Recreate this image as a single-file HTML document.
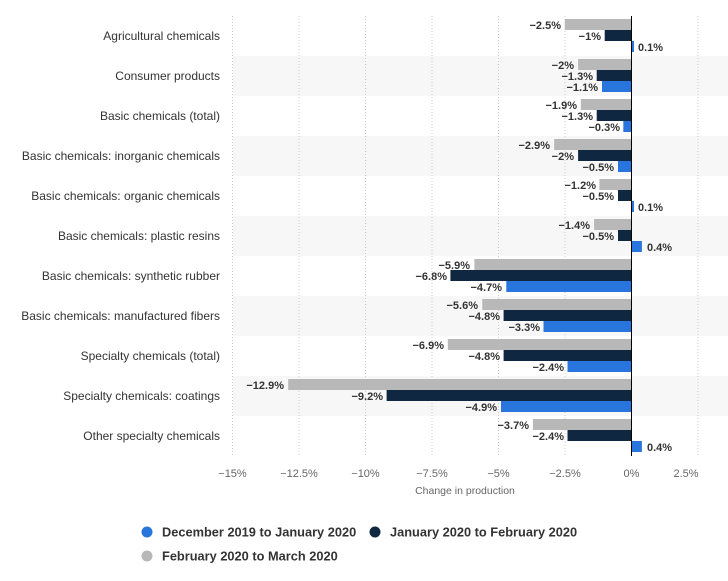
<!DOCTYPE html>
<html><head><meta charset="utf-8"><style>
html,body{margin:0;padding:0;background:#fff;}
svg{display:block;font-family:"Liberation Sans",sans-serif;}
.c{font-size:12px;fill:#333;text-anchor:end;}
.v{font-size:11px;font-weight:bold;fill:#333;text-anchor:end;}
.p{font-size:11px;font-weight:bold;fill:#333;}
.t{font-size:11px;fill:#666;text-anchor:middle;}
.g{fill:#b8b8b8}.n{fill:#0f2740}.b{fill:#2876dd}
.lg{font-size:12.8px;font-weight:bold;fill:#333;}
</style></head><body>
<svg width="728" height="581" viewBox="0 0 728 581">
<g fill="#f7f7f7">
<rect x="233" y="56" width="495" height="40"/>
<rect x="233" y="136" width="495" height="40"/>
<rect x="233" y="216" width="495" height="40"/>
<rect x="233" y="296" width="495" height="40"/>
<rect x="233" y="376" width="495" height="40"/>
</g>
<g stroke="#ccc" stroke-width="1" stroke-dasharray="1,2">
<line x1="232.5" y1="16" x2="232.5" y2="456"/>
<line x1="299" y1="16" x2="299" y2="456"/>
<line x1="365.5" y1="16" x2="365.5" y2="456"/>
<line x1="432" y1="16" x2="432" y2="456"/>
<line x1="498.5" y1="16" x2="498.5" y2="456"/>
<line x1="565" y1="16" x2="565" y2="456"/>
<line x1="698" y1="16" x2="698" y2="456"/>
</g>
<g class="c">
<text x="220" y="40">Agricultural chemicals</text>
<text x="220" y="80">Consumer products</text>
<text x="220" y="120">Basic chemicals (total)</text>
<text x="220" y="160">Basic chemicals: inorganic chemicals</text>
<text x="220" y="200">Basic chemicals: organic chemicals</text>
<text x="220" y="240">Basic chemicals: plastic resins</text>
<text x="220" y="280">Basic chemicals: synthetic rubber</text>
<text x="220" y="320">Basic chemicals: manufactured fibers</text>
<text x="220" y="360">Specialty chemicals (total)</text>
<text x="220" y="400">Specialty chemicals: coatings</text>
<text x="220" y="440">Other specialty chemicals</text>
</g>
<rect class="g" x="564.8" y="19" width="66.5" height="11"/>
<rect class="n" x="604.7" y="30" width="26.6" height="11"/>
<rect class="b" x="631.3" y="41" width="2.7" height="11"/>
<rect class="g" x="578.1" y="59" width="53.2" height="11"/>
<rect class="n" x="596.7" y="70" width="34.6" height="11"/>
<rect class="b" x="602.0" y="81" width="29.3" height="11"/>
<rect class="g" x="580.8" y="99" width="50.5" height="11"/>
<rect class="n" x="596.7" y="110" width="34.6" height="11"/>
<rect class="b" x="623.3" y="121" width="8" height="11"/>
<rect class="g" x="554.2" y="139" width="77.1" height="11"/>
<rect class="n" x="578.1" y="150" width="53.2" height="11"/>
<rect class="b" x="618.0" y="161" width="13.3" height="11"/>
<rect class="g" x="599.4" y="179" width="31.9" height="11"/>
<rect class="n" x="618.0" y="190" width="13.3" height="11"/>
<rect class="b" x="631.3" y="201" width="2.7" height="11"/>
<rect class="g" x="594.1" y="219" width="37.2" height="11"/>
<rect class="n" x="618.0" y="230" width="13.3" height="11"/>
<rect class="b" x="631.3" y="241" width="10.6" height="11"/>
<rect class="g" x="474.4" y="259" width="156.9" height="11"/>
<rect class="n" x="450.4" y="270" width="180.9" height="11"/>
<rect class="b" x="506.3" y="281" width="125" height="11"/>
<rect class="g" x="482.3" y="299" width="149" height="11"/>
<rect class="n" x="503.6" y="310" width="127.7" height="11"/>
<rect class="b" x="543.5" y="321" width="87.8" height="11"/>
<rect class="g" x="447.8" y="339" width="183.5" height="11"/>
<rect class="n" x="503.6" y="350" width="127.7" height="11"/>
<rect class="b" x="567.5" y="361" width="63.8" height="11"/>
<rect class="g" x="288.2" y="379" width="343.1" height="11"/>
<rect class="n" x="386.6" y="390" width="244.7" height="11"/>
<rect class="b" x="501.0" y="401" width="130.3" height="11"/>
<rect class="g" x="532.9" y="419" width="98.4" height="11"/>
<rect class="n" x="567.5" y="430" width="63.8" height="11"/>
<rect class="b" x="631.3" y="441" width="10.6" height="11"/>
<line x1="631.5" y1="16" x2="631.5" y2="456" stroke="#000" stroke-width="1"/>
<g class="v">
<text x="561" y="29">−2.5%</text><text x="601" y="40">−1%</text>
<text x="574" y="69">−2%</text><text x="593" y="80">−1.3%</text><text x="598" y="91">−1.1%</text>
<text x="577" y="109">−1.9%</text><text x="593" y="120">−1.3%</text><text x="620" y="131">−0.3%</text>
<text x="550" y="149">−2.9%</text><text x="574" y="160">−2%</text><text x="614" y="171">−0.5%</text>
<text x="596" y="189">−1.2%</text><text x="614" y="200">−0.5%</text>
<text x="590" y="229">−1.4%</text><text x="614" y="240">−0.5%</text>
<text x="470" y="269">−5.9%</text><text x="447" y="280">−6.8%</text><text x="502" y="291">−4.7%</text>
<text x="478" y="309">−5.6%</text><text x="500" y="320">−4.8%</text><text x="540" y="331">−3.3%</text>
<text x="444" y="349">−6.9%</text><text x="500" y="360">−4.8%</text><text x="564" y="371">−2.4%</text>
<text x="284" y="389">−12.9%</text><text x="383" y="400">−9.2%</text><text x="497" y="411">−4.9%</text>
<text x="529" y="429">−3.7%</text><text x="564" y="440">−2.4%</text>
</g>
<g class="p">
<text x="638" y="51">0.1%</text>
<text x="638" y="211">0.1%</text>
<text x="647" y="251">0.4%</text>
<text x="647" y="451">0.4%</text>
</g>
<g class="t">
<text x="232.5" y="477">−15%</text>
<text x="299" y="477">−12.5%</text>
<text x="365.5" y="477">−10%</text>
<text x="432" y="477">−7.5%</text>
<text x="498.5" y="477">−5%</text>
<text x="565" y="477">−2.5%</text>
<text x="631.5" y="477">0%</text>
<text x="686" y="477">2.5%</text>
<text x="465" y="494" style="font-size:10.5px">Change in production</text>
</g>
<circle cx="147" cy="532" r="5.5" fill="#2876dd"/>
<text class="lg" x="162" y="536.5">December 2019 to January 2020</text>
<circle cx="375" cy="532" r="5.5" fill="#0f2740"/>
<text class="lg" x="390" y="536.5">January 2020 to February 2020</text>
<circle cx="147" cy="556" r="5.5" fill="#b8b8b8"/>
<text class="lg" x="162" y="560.5">February 2020 to March 2020</text>
</svg>
</body></html>
